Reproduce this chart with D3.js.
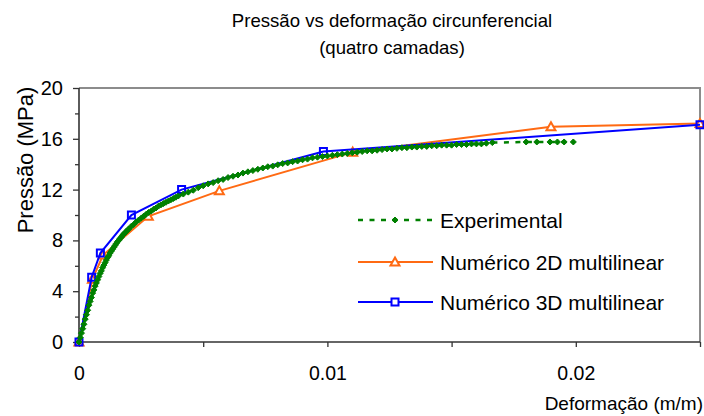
<!DOCTYPE html>
<html>
<head>
<meta charset="utf-8">
<script src="https://cdn.jsdelivr.net/npm/d3@7"></script>
<style>
  html, body { margin: 0; padding: 0; background: #fff; }
  svg text { font-family: "Liberation Sans", Arial, sans-serif; fill: #000; }
</style>
</head>
<body>
<svg id="chart" width="704" height="416"></svg>
<script>
// Experimental curve: strain (m/m) and pressure (MPa)
const expStrain = [
  0.00000, 0.00005, 0.00010, 0.00015, 0.00020, 0.00025, 0.00030, 0.00035, 0.00040, 0.00045,
  0.00050, 0.00055, 0.00060, 0.00065, 0.00070, 0.00075, 0.00080, 0.00085, 0.00090, 0.00095,
  0.00100, 0.00105, 0.00110, 0.00115, 0.00120, 0.00125, 0.00130, 0.00135, 0.00140, 0.00145,
  0.00150, 0.00155, 0.00160, 0.00165, 0.00170, 0.00175, 0.00180, 0.00185, 0.00190, 0.00195,
  0.00200, 0.00210, 0.00220, 0.00230, 0.00240, 0.00250, 0.00260, 0.00270, 0.00280, 0.00290,
  0.00300, 0.00310, 0.00320, 0.00330, 0.00340, 0.00350, 0.00360, 0.00370, 0.00380, 0.00390,
  0.00400, 0.00420, 0.00440, 0.00460, 0.00480, 0.00500, 0.00520, 0.00540, 0.00560, 0.00580,
  0.00600, 0.00620, 0.00640, 0.00660, 0.00680, 0.00700, 0.00720, 0.00740, 0.00760, 0.00780,
  0.00800, 0.00820, 0.00840, 0.00860, 0.00880, 0.00900, 0.00920, 0.00940, 0.00960, 0.00980,
  0.01000, 0.01020, 0.01040, 0.01060, 0.01080, 0.01100, 0.01120, 0.01140, 0.01160, 0.01180,
  0.01200, 0.01220, 0.01240, 0.01260, 0.01280, 0.01300, 0.01320, 0.01340, 0.01360, 0.01380,
  0.01400, 0.01420, 0.01440, 0.01460, 0.01480, 0.01500, 0.01520, 0.01540, 0.01560, 0.01580,
  0.01600, 0.01620, 0.01640, 0.01664, 0.01800, 0.01843, 0.01896, 0.01926, 0.01953, 0.01990
];
const expPressure = [
  0.00, 0.35, 0.70, 1.05, 1.40, 1.80, 2.15, 2.50, 2.90, 3.20,
  3.50, 3.85, 4.10, 4.40, 4.65, 4.90, 5.15, 5.40, 5.60, 5.85,
  6.05, 6.25, 6.45, 6.65, 6.80, 7.00, 7.15, 7.30, 7.45, 7.60,
  7.75, 7.90, 8.00, 8.15, 8.25, 8.40, 8.50, 8.60, 8.70, 8.80,
  8.90, 9.10, 9.25, 9.45, 9.60, 9.75, 9.90, 10.05, 10.20, 10.30,
  10.45, 10.55, 10.70, 10.80, 10.90, 11.00, 11.10, 11.20, 11.30, 11.40,
  11.50, 11.65, 11.80, 11.95, 12.15, 12.30, 12.45, 12.55, 12.70, 12.80,
  12.95, 13.05, 13.15, 13.30, 13.40, 13.50, 13.60, 13.70, 13.80, 13.85,
  13.95, 14.05, 14.10, 14.20, 14.25, 14.35, 14.40, 14.50, 14.55, 14.60,
  14.65, 14.70, 14.75, 14.80, 14.85, 14.90, 14.95, 15.00, 15.05, 15.05,
  15.10, 15.15, 15.20, 15.20, 15.25, 15.30, 15.30, 15.35, 15.35, 15.40,
  15.40, 15.45, 15.45, 15.50, 15.50, 15.50, 15.55, 15.55, 15.55, 15.60,
  15.60, 15.60, 15.65, 15.70, 15.75, 15.75, 15.75, 15.75, 15.75, 15.75
];

// Numerical model, 2D multilinear
const num2dStrain   = [0, 0.00054, 0.00097, 0.00279, 0.00565, 0.01102, 0.01900, 0.02500];
const num2dPressure = [0, 4.95, 6.85, 9.90, 11.90, 14.95, 16.95, 17.20];

// Numerical model, 3D multilinear
const num3dStrain   = [0, 0.00051, 0.00086, 0.00211, 0.00413, 0.00984, 0.02500];
const num3dPressure = [0, 5.10, 7.00, 10.00, 12.00, 15.00, 17.10];

const yTicks = [0, 4, 8, 12, 16, 20];
const yMinorTicks = [2, 6, 10, 14, 18];
const xTicks = [0, 0.005, 0.01, 0.015, 0.02, 0.025];
const xTickLabels = { 0: "0", 0.01: "0.01", 0.02: "0.02" };

const titleLines = ["Pressão vs deformação circunferencial", "(quatro camadas)"];
const yTitle = "Pressão (MPa)";
const xTitle = "Deformação (m/m)";
const seriesNames = ["Experimental", "Numérico 2D multilinear", "Numérico 3D multilinear"];

const GREEN = "#008000", ORANGE = "#ff6a13", BLUE = "#0000ff";

const svg = d3.select("#chart");
const plotLeft = 79, plotRight = 700, plotTop = 88, plotBottom = 342;

const x = d3.scaleLinear().domain([0, 0.025]).range([plotLeft, plotRight]);
const y = d3.scaleLinear().domain([0, 20]).range([plotBottom, plotTop]);

// Title
svg.append("text")
  .attr("text-anchor", "middle")
  .style("font-size", "18.6px")
  .selectAll("tspan").data(titleLines).join("tspan")
  .attr("x", 392).attr("y", (d, i) => 27 + i * 27)
  .text(d => d);

// Plot frame (top and right edges)
svg.append("path")
  .attr("d", `M${plotLeft},${plotTop}H${plotRight}V${plotBottom}`)
  .attr("fill", "none").attr("stroke", "#8c8c8c").attr("stroke-width", 2);

// Y axis
const yAxis = d3.axisLeft(y).tickValues(yTicks).tickSize(6).tickPadding(10)
  .tickFormat(d3.format("d"));
const gy = svg.append("g").attr("transform", `translate(${plotLeft},0)`).call(yAxis);
gy.select(".domain").remove();
gy.selectAll(".tick line").attr("stroke", "#333").attr("stroke-width", 1.3);
gy.selectAll(".tick text").style("font-size", "20px").style("font-family", "Liberation Sans, Arial, sans-serif");
const gyMinor = svg.append("g").attr("transform", `translate(${plotLeft},0)`)
  .call(d3.axisLeft(y).tickValues(yMinorTicks).tickSize(4).tickFormat(""));
gyMinor.select(".domain").remove();
gyMinor.selectAll(".tick line").attr("stroke", "#333").attr("stroke-width", 1.3);

// X axis
const xAxis = d3.axisBottom(x).tickValues(xTicks).tickSize(5).tickPadding(19)
  .tickFormat(d => xTickLabels[d] || "");
const gx = svg.append("g").attr("transform", `translate(0,${plotBottom})`).call(xAxis);
gx.select(".domain").remove();
gx.selectAll(".tick line").attr("stroke", "#333").attr("stroke-width", 1.3);
gx.selectAll(".tick text").style("font-size", "19.5px").style("font-family", "Liberation Sans, Arial, sans-serif");

// Axis lines
svg.append("line").attr("x1", plotLeft).attr("x2", plotLeft).attr("y1", plotTop).attr("y2", plotBottom)
  .attr("stroke", "#333").attr("stroke-width", 1.6);
svg.append("line").attr("x1", plotLeft).attr("x2", plotRight).attr("y1", plotBottom).attr("y2", plotBottom)
  .attr("stroke", "#333").attr("stroke-width", 1.6);

// Axis titles
svg.append("text")
  .attr("transform", "translate(33,160) rotate(-90)")
  .attr("text-anchor", "middle").style("font-size", "22px").text(yTitle);
svg.append("text")
  .attr("x", 703).attr("y", 410).attr("text-anchor", "end")
  .style("font-size", "19px").text(xTitle);

// Markers
const triPath = "M0,-4.5L4.5,3.5L-4.5,3.5Z";
const sqPath = "M-3.5,-3.5H3.5V3.5H-3.5Z";
const diaPath = "M0,-3L3,0L0,3L-3,0Z";

const line = d3.line().x(d => x(d[0])).y(d => y(d[1]));

function drawSeries(strain, pressure, color, opts) {
  const pts = strain.map((s, i) => [s, pressure[i]]);
  svg.append("path").datum(pts).attr("d", line)
    .attr("fill", "none").attr("stroke", color)
    .attr("stroke-width", opts.width)
    .attr("stroke-dasharray", opts.dash || null);
  svg.append("g").selectAll("path").data(pts).join("path")
    .attr("transform", d => `translate(${x(d[0])},${y(d[1])})`)
    .attr("d", opts.marker)
    .attr("fill", opts.fill).attr("stroke", color).attr("stroke-width", opts.mw);
}

drawSeries(num2dStrain, num2dPressure, ORANGE, { width: 2, marker: triPath, fill: "#fff", mw: 2 });
drawSeries(num3dStrain, num3dPressure, BLUE, { width: 2, marker: sqPath, fill: "none", mw: 2 });
drawSeries(expStrain, expPressure, GREEN, { width: 2.5, dash: "5,6.5", marker: diaPath, fill: GREEN, mw: 1 });

// Legend
const legendRows = [
  { name: seriesNames[0], color: GREEN, dash: "5,6.5", marker: diaPath, fill: GREEN, width: 2.5, mw: 1, y: 220 },
  { name: seriesNames[1], color: ORANGE, dash: null, marker: triPath, fill: "#fff", width: 2, mw: 2, y: 262 },
  { name: seriesNames[2], color: BLUE, dash: null, marker: sqPath, fill: "#fff", width: 2, mw: 2, y: 302 }
];
const lg = svg.append("g").selectAll("g").data(legendRows).join("g")
  .attr("transform", d => `translate(0,${d.y})`);
lg.append("line").attr("x1", 358).attr("x2", 433)
  .attr("stroke", d => d.color).attr("stroke-width", d => d.width)
  .attr("stroke-dasharray", d => d.dash);
lg.append("path").attr("transform", "translate(395,0)")
  .attr("d", d => d.marker).attr("fill", d => d.fill)
  .attr("stroke", d => d.color).attr("stroke-width", d => d.mw);
lg.append("text").attr("x", 440).attr("y", 7.5).style("font-size", "21px").text(d => d.name);
</script>
</body>
</html>
